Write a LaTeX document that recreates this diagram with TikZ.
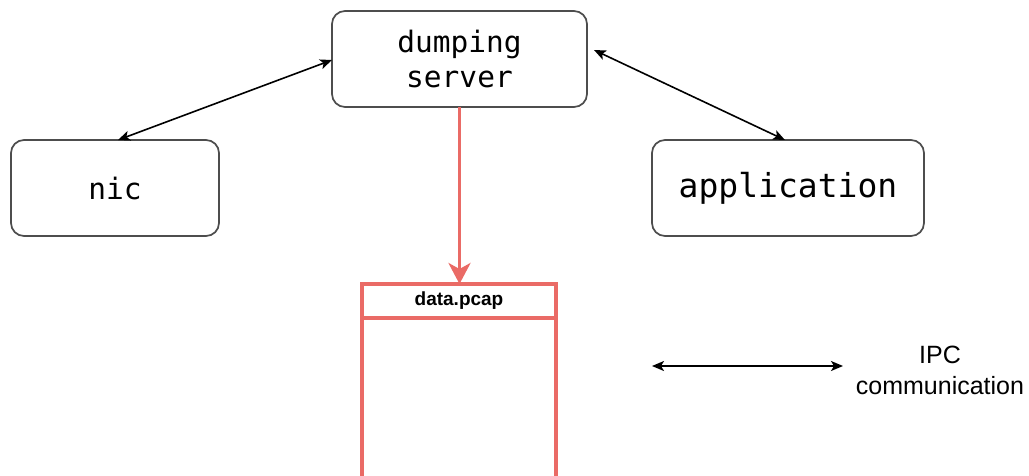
\documentclass[tikz,border=0pt]{standalone}
\usepackage{fontspec}
\setmainfont{Liberation Sans}
\newfontfamily\boxmono{DejaVu Sans Mono}
\usetikzlibrary{arrows.meta,calc}
\definecolor{pcapred}{HTML}{EA6B66}
\definecolor{edgegray}{HTML}{4D4D4D}
\tikzset{
  procbox/.style={draw=edgegray, line width=1.7pt, rounded corners=13pt, fill=white,
    inner sep=0pt, outer sep=0pt, align=center, font=\boxmono\fontsize{29.5}{35}\selectfont},
  ipc/.style={line width=1.6pt, {Stealth[length=12pt,width=10pt,inset=3pt]}-{Stealth[length=12pt,width=10pt,inset=3pt]}},
  writearrow/.style={draw=pcapred, line width=3.4pt, -{Stealth[length=21pt,width=22pt,inset=6pt,fill=pcapred]}},
  filebox/.style={draw=pcapred, line width=3.4pt},
}
\begin{document}
\begin{tikzpicture}[x=1pt, y=-1pt]
  \useasboundingbox (0,0) rectangle (1029,475);

  % processes
  \node[procbox, minimum width=255pt, minimum height=96pt] (dump) at (459.5,59) {dumping\\server};
  \node[procbox, minimum width=208pt, minimum height=96pt] (nic) at (115,188) {nic};
  \node[procbox, minimum width=272pt, minimum height=96pt,
        font=\boxmono\fontsize{33}{38}\selectfont] (app) at (788,188) {\raisebox{-4pt}{application}};

  % capture file
  \coordinate (pcapTL) at (362,284);
  \coordinate (pcapBR) at (556,500);
  \draw[filebox, fill=white] (pcapTL) rectangle (pcapBR);
  \draw[filebox] (362,318) -- (556,318);
  \node[font=\bfseries\fontsize{19}{22}\selectfont] (pcap) at (459,300.5) {data.pcap};
  \coordinate (pcapTop) at (459.5,284);

  % IPC links
  \draw[ipc] ([xshift=107pt]nic.north west) -- ([yshift=-49pt]dump.north west);
  \draw[ipc] ([xshift=7pt,yshift=-39pt]dump.north east) -- ([xshift=133pt]app.north west);

  % dump written to file
  \draw[writearrow] (dump.south) -- (pcapTop);

  % legend
  \coordinate (legA) at (652,366);
  \coordinate (legB) at (843,366);
  \draw[ipc] (legA) -- (legB);
  \node[align=center, font=\fontsize{25}{31}\selectfont] (legtext) at (940,370) {IPC\\communication};
\end{tikzpicture}
\end{document}
